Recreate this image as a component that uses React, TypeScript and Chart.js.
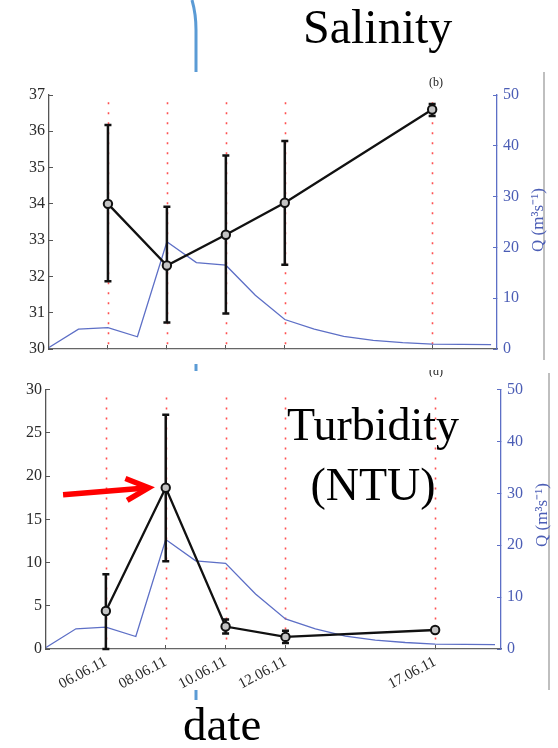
import React, { useEffect, useRef } from 'react';
import { Chart, registerables } from 'chart.js';
Chart.register(...registerables);

// Sampling dates (day of June 2011) and their labels
const sampleDays = [6, 8, 10, 12, 17];
const dateLabels = ['06.06.11', '08.06.11', '10.06.11', '12.06.11', '17.06.11'];
const dayRange = [4, 19.2];

// Salinity (panel b)
const salinity = [34.0, 32.3, 33.15, 34.03, 36.6];
const salinityLow = [31.87, 30.73, 30.98, 32.32, 36.42];
const salinityHigh = [36.17, 33.92, 35.33, 35.73, 36.75];
const salinityRange = [30, 37];
const salinityStep = 1;
const salinityGuideTop = 36.8;

// Turbidity (panel d)
const turbidity = [4.4, 18.65, 2.6, 1.4, 2.2];
const turbidityLow = [0, 10.15, 1.8, 0.7, 2.2];
const turbidityHigh = [8.65, 27.1, 3.4, 2.1, 2.2];
const turbidityRange = [0, 30];
const turbidityStep = 5;
const turbidityGuideTop = 29.1;

// River discharge Q (m3 s-1), daily
const dischargeDays = [4, 5, 6, 7, 8, 9, 10, 11, 12, 13, 14, 15, 16, 17, 18, 19];
const discharge = [0.3, 3.9, 4.2, 2.4, 21.1, 17.0, 16.5, 10.6, 5.8, 3.9, 2.5, 1.7, 1.25, 0.95, 0.9, 0.85];
const dischargeRange = [0, 50];
const dischargeStep = 10;

// Arrow annotation in turbidity panel (data coordinates: day, NTU)
const arrowTail = [4.57, 17.85];
const arrowTip = [7.43, 18.66];

const SERIF = "'Liberation Serif', 'Times New Roman', serif";
const BLUE = '#5d6fc6';
const BLUE_TEXT = '#4b5db5';

type PanelProps = {
  top: number;
  width: number;
  height: number;
  area: { left: number; right: number; top: number; bottom: number };
  values: number[];
  low: number[];
  high: number[];
  yRange: number[];
  yStep: number;
  guideTop: number;
  showDateLabels: boolean;
  arrow?: boolean;
};

function Panel(p: PanelProps) {
  const ref = useRef<HTMLCanvasElement | null>(null);
  useEffect(() => {
    if (!ref.current) return;
    const plugin = {
      id: 'panelExtras',
      beforeDatasetsDraw(chart: any) {
        const { ctx, scales } = chart;
        const x = scales.x, y = scales.y;
        ctx.save();
        ctx.strokeStyle = '#ff5050';
        ctx.lineWidth = 1.6;
        ctx.setLineDash([2, 8]);
        for (const d of sampleDays) {
          const px = Math.round(x.getPixelForValue(d)) + 0.5;
          ctx.beginPath();
          ctx.moveTo(px, y.getPixelForValue(p.guideTop));
          ctx.lineTo(px, y.getPixelForValue(p.yRange[0]) - 2);
          ctx.stroke();
        }
        ctx.restore();
      },
      beforeDatasetDraw(chart: any, args: any) {
        if (args.index !== 0) return;
        const { ctx, scales } = chart;
        const x = scales.x, y = scales.y;
        ctx.save();
        ctx.strokeStyle = '#111';
        ctx.lineWidth = 2.5;
        for (let i = 0; i < sampleDays.length; i++) {
          const px = x.getPixelForValue(sampleDays[i]);
          const y1 = y.getPixelForValue(p.low[i]);
          const y2 = y.getPixelForValue(p.high[i]);
          if (Math.abs(y1 - y2) < 1) continue;
          ctx.beginPath();
          ctx.moveTo(px, y1); ctx.lineTo(px, y2);
          ctx.moveTo(px - 3.5, y1); ctx.lineTo(px + 3.5, y1);
          ctx.moveTo(px - 3.5, y2); ctx.lineTo(px + 3.5, y2);
          ctx.stroke();
        }
        ctx.restore();
      },
      afterDatasetsDraw(chart: any) {
        if (!p.arrow) return;
        const { ctx, scales } = chart;
        const x = scales.x, y = scales.y;
        const tx = x.getPixelForValue(arrowTail[0]), ty = y.getPixelForValue(arrowTail[1]);
        const hx = x.getPixelForValue(arrowTip[0]), hy = y.getPixelForValue(arrowTip[1]);
        const ang = Math.atan2(hy - ty, hx - tx);
        const L = 25, a = 26 * Math.PI / 180;
        ctx.save();
        ctx.strokeStyle = '#ff0000';
        ctx.lineWidth = 5.5;
        ctx.lineJoin = 'miter';
        ctx.beginPath();
        ctx.moveTo(tx, ty); ctx.lineTo(hx - 3 * Math.cos(ang), hy - 3 * Math.sin(ang));
        ctx.stroke();
        ctx.beginPath();
        ctx.moveTo(hx - L * Math.cos(ang - a), hy - L * Math.sin(ang - a));
        ctx.lineTo(hx, hy);
        ctx.lineTo(hx - L * Math.cos(ang + a), hy - L * Math.sin(ang + a));
        ctx.stroke();
        ctx.restore();
      },
    };

    const tickFont = { family: SERIF, size: 16 };
    const chart = new Chart(ref.current, {
      type: 'line',
      data: {
        datasets: [
          {
            data: sampleDays.map((d, i) => ({ x: d, y: p.values[i] })),
            borderColor: '#111',
            borderWidth: 2.3,
            pointRadius: 4.2,
            pointBorderWidth: 2,
            pointBackgroundColor: '#c4c4c4',
            pointBorderColor: '#111',
            yAxisID: 'y',
            order: 0,
            tension: 0,
          },
          {
            data: dischargeDays.map((d, i) => ({ x: d, y: discharge[i] })),
            borderColor: BLUE,
            borderWidth: 1.3,
            pointRadius: 0,
            yAxisID: 'y1',
            order: 1,
            tension: 0,
          },
        ],
      },
      options: {
        responsive: false,
        animation: false,
        devicePixelRatio: 1,
        events: [],
        layout: { padding: { top: p.area.top, left: 0, right: 0, bottom: 0 } },
        plugins: { legend: { display: false }, tooltip: { enabled: false } },
        scales: {
          x: {
            type: 'linear',
            min: dayRange[0],
            max: dayRange[1],
            afterBuildTicks: (s: any) => { s.ticks = sampleDays.map((v) => ({ value: v })); },
            afterFit: (s: any) => { s.height = p.height - p.area.bottom; },
            grid: { display: true, drawOnChartArea: false, drawTicks: true, tickLength: -4, color: '#555', tickColor: '#555', lineWidth: 1 },
            border: { display: true, color: '#666', width: 1.3 },
            ticks: {
              display: p.showDateLabels,
              autoSkip: false,
              minRotation: 28,
              maxRotation: 28,
              padding: 8,
              color: '#2a2a2a',
              font: { family: SERIF, size: 15 },
              callback: (v: any) => dateLabels[sampleDays.indexOf(Number(v))] ?? '',
            },
          },
          y: {
            position: 'left',
            min: p.yRange[0],
            max: p.yRange[1],
            afterFit: (s: any) => { s.width = p.area.left; },
            grid: { display: true, drawOnChartArea: false, drawTicks: true, tickLength: -4, color: '#555', tickColor: '#555' },
            border: { display: true, color: '#555', width: 1.3 },
            ticks: { stepSize: p.yStep, color: '#2a2a2a', font: tickFont, padding: 8 },
          },
          y1: {
            position: 'right',
            min: dischargeRange[0],
            max: dischargeRange[1],
            afterFit: (s: any) => { s.width = p.width - p.area.right; },
            grid: { display: true, drawOnChartArea: false, drawTicks: true, tickLength: -4, color: BLUE, tickColor: BLUE },
            border: { display: true, color: BLUE, width: 1.3 },
            ticks: { stepSize: dischargeStep, color: BLUE_TEXT, font: tickFont, padding: 10 },
          },
        },
      },
      plugins: [plugin],
    } as any);
    return () => chart.destroy();
  }, []);
  return (
    <canvas
      ref={ref}
      width={p.width}
      height={p.height}
      style={{ position: 'absolute', left: 0, top: p.top, width: p.width, height: p.height }}
    />
  );
}

const bigText: React.CSSProperties = {
  position: 'absolute',
  fontFamily: SERIF,
  color: '#000',
  lineHeight: 1,
  whiteSpace: 'nowrap',
};

export default function App() {
  return (
    <div style={{ position: 'absolute', left: 0, top: 0, width: 558, height: 748, background: '#fff', overflow: 'hidden' }}>
      <Panel
        top={70}
        width={545}
        height={300}
        area={{ left: 49, right: 497, top: 25, bottom: 279 }}
        values={salinity}
        low={salinityLow}
        high={salinityHigh}
        yRange={salinityRange}
        yStep={salinityStep}
        guideTop={salinityGuideTop}
        showDateLabels={false}
      />
      <Panel
        top={370}
        width={545}
        height={378}
        area={{ left: 46, right: 501, top: 18, bottom: 279 }}
        values={turbidity}
        low={turbidityLow}
        high={turbidityHigh}
        yRange={turbidityRange}
        yStep={turbidityStep}
        guideTop={turbidityGuideTop}
        showDateLabels={true}
        arrow={true}
      />
      <svg width={558} height={748} style={{ position: 'absolute', left: 0, top: 0, pointerEvents: 'none' }}>
        <path d="M192,0 Q196,14 196,30 L196,72" fill="none" stroke="#5b9bd5" strokeWidth={3} />
        <line x1={196} y1={364} x2={196} y2={371} stroke="#5b9bd5" strokeWidth={3} />
        <line x1={196} y1={690} x2={196} y2={700} stroke="#5b9bd5" strokeWidth={3} />
        <line x1={544} y1={72} x2={544} y2={360} stroke="#aaa" strokeWidth={1.5} />
        <line x1={549} y1={373} x2={549} y2={690} stroke="#aaa" strokeWidth={1.5} />
      </svg>
      <div style={{ ...bigText, fontSize: 48, left: 303, top: 3 }}>Salinity</div>
      <div style={{ ...bigText, fontSize: 46, left: 273, width: 200, top: 395, textAlign: 'center', lineHeight: '60px' }}>
        Turbidity<br />(NTU)
      </div>
      <div style={{ ...bigText, fontSize: 47, left: 183, top: 701 }}>date</div>
      <div style={{ ...bigText, fontSize: 12, left: 429, top: 76, color: '#222' }}>(b)</div>
      <div style={{ position: 'absolute', left: 429, top: 370, height: 7, width: 20, overflow: 'hidden' }}>
        <div style={{ ...bigText, fontSize: 12, left: 0, top: -5, color: '#222' }}>(d)</div>
      </div>
      <div style={{ ...bigText, fontSize: 17, color: BLUE_TEXT, left: 537, top: 220, transform: 'translate(-50%, -50%) rotate(-90deg)' }}>
        Q (m³s⁻¹)
      </div>
      <div style={{ ...bigText, fontSize: 17, color: BLUE_TEXT, left: 541, top: 515, transform: 'translate(-50%, -50%) rotate(-90deg)' }}>
        Q (m³s⁻¹)
      </div>
    </div>
  );
}
